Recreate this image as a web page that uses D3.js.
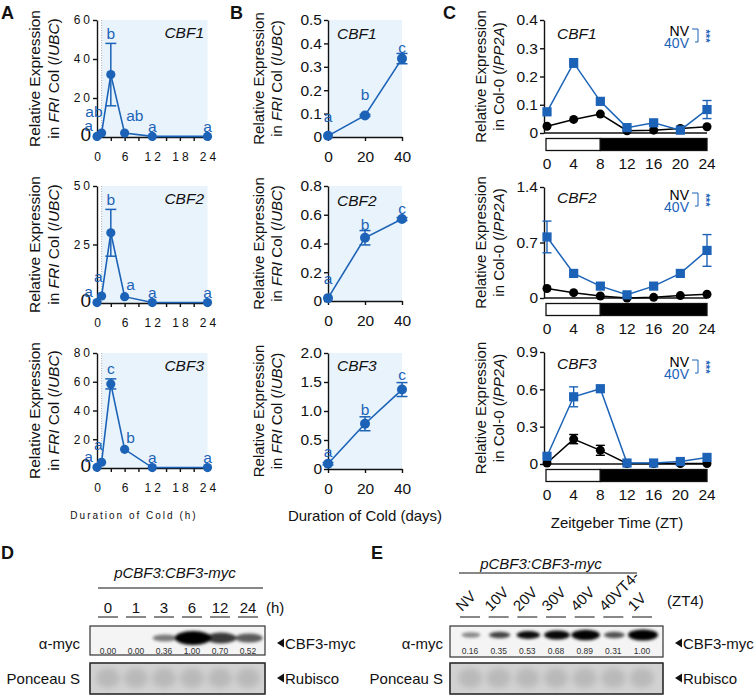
<!DOCTYPE html>
<html><head><meta charset="utf-8">
<script src="https://cdn.jsdelivr.net/npm/d3@7"></script>
<style>body{margin:0;background:#fff}svg{display:block}</style>
</head><body><svg id="c" width="756" height="696"></svg>
<script>
// ---------------- DATA ----------------
const hoursA = [0, 1, 3, 6, 12, 24];
const aCBF1 = [0.3, 2, 32, 2, 0.3, 0.3];
const aCBF1Err = [0, 0, 16, 0, 0, 0];
const aCBF1Sig = ["a", "ab", "b", "ab", "a", "a"];
const aCBF2 = [0.2, 3, 30, 2.7, 0.2, 0.2];
const aCBF2Err = [0, 0, 10, 0, 0, 0];
const aCBF2Sig = ["a", "a", "b", "a", "a", "a"];
const aCBF3 = [0.5, 4, 58.5, 13, 0.3, 0.3];
const aCBF3Err = [0, 0, 3.5, 0, 0, 0];
const aCBF3Sig = ["a", "a", "c", "b", "a", "a"];
const aTicksX = [0, 3, 6, 9, 12, 15, 18, 21, 24];
const aTicksY1 = [0, 20, 40, 60];
const aTicksY2 = [0, 25, 50];
const aTicksY3 = [0, 20, 40, 60, 80];

const daysB = [0, 20, 40];
const bCBF1 = [0.005, 0.092, 0.335];
const bCBF1Err = [0, 0.004, 0.022];
const bCBF2 = [0.02, 0.44, 0.57];
const bCBF2Err = [0, 0.05, 0.01];
const bCBF3 = [0.09, 0.78, 1.37];
const bCBF3Err = [0.02, 0.12, 0.12];
const bSig = ["a", "b", "c"];
const bTicksY1 = [0, 0.1, 0.2, 0.3, 0.4, 0.5];
const bTicksY2 = [0, 0.2, 0.4, 0.6, 0.8];
const bTicksY3 = [0, 0.5, 1.0, 1.5, 2.0];

const ztC = [0, 4, 8, 12, 16, 20, 24];
const cCBF1NV = [0.024, 0.048, 0.067, 0.008, 0.01, 0.016, 0.022];
const cCBF1NVErr = [0, 0, 0, 0, 0, 0, 0];
const cCBF1V40 = [0.075, 0.248, 0.112, 0.019, 0.036, 0.01, 0.083];
const cCBF1V40Err = [0, 0.015, 0, 0, 0, 0, 0.032];
const cCBF2NV = [0.12, 0.067, 0.025, 0.0, 0.008, 0.03, 0.047];
const cCBF2NVErr = [0, 0, 0, 0, 0, 0, 0];
const cCBF2V40 = [0.77, 0.31, 0.15, 0.04, 0.15, 0.31, 0.6];
const cCBF2V40Err = [0.2, 0, 0, 0, 0, 0, 0.2];
const cCBF3NV = [0.008, 0.2, 0.11, 0.004, 0.004, 0.004, 0.004];
const cCBF3NVErr = [0, 0.037, 0.04, 0, 0, 0, 0];
const cCBF3V40 = [0.062, 0.54, 0.605, 0.008, 0.008, 0.02, 0.053];
const cCBF3V40Err = [0, 0.08, 0, 0, 0, 0, 0];
const cTicksY1 = [0, 0.1, 0.2, 0.3, 0.4];
const cTicksY2 = [0, 0.7, 1.4];
const cTicksY3 = [0, 0.3, 0.6, 0.9];
const lightPeriod = [0, 8];
const darkPeriod = [8, 24];

const dLanes = ["0", "1", "3", "6", "12", "24"];
const dQuant = [0.00, 0.00, 0.36, 1.00, 0.70, 0.52];
const eLanes = ["NV", "10V", "20V", "30V", "40V", "40VT4-", "1V"];
const eQuant = [0.16, 0.35, 0.53, 0.68, 0.89, 0.31, 1.00];

// ---------------- STYLE ----------------
const BLUE = "#1c63b7";
const SHADE = "#e9f3fc";
const FONT = '"Liberation Sans", Arial, Helvetica, sans-serif';
const svg = d3.select("#c").attr("font-family", FONT);
svg.append("rect").attr("width", 756).attr("height", 696).attr("fill", "#fff");

const defs = svg.append("defs");
defs.append("filter").attr("id", "blur").attr("x", "-50%").attr("y", "-100%").attr("width", "200%").attr("height", "300%")
  .append("feGaussianBlur").attr("stdDeviation", 1.6);
defs.append("filter").attr("id", "blur2").attr("x", "-50%").attr("y", "-50%").attr("width", "200%").attr("height", "200%")
  .append("feGaussianBlur").attr("stdDeviation", 3);

function styleAxis(sel, size) {
  sel.attr("font-family", FONT).attr("font-size", size);
  sel.select(".domain").attr("stroke-width", 1.4).attr("stroke", "#111");
  sel.selectAll(".tick line").attr("stroke-width", 1.4).attr("stroke", "#111");
  sel.selectAll(".tick text").attr("fill", "#111");
}

function yLabel(x1, x2, yc, parts, size) {
  svg.append("text").attr("transform", `translate(${x1},${yc}) rotate(-90)`)
    .attr("text-anchor", "middle").attr("font-size", size).attr("fill", "#111").text("Relative Expression");
  const t = svg.append("text").attr("transform", `translate(${x2},${yc}) rotate(-90)`)
    .attr("text-anchor", "middle").attr("font-size", size).attr("fill", "#111").attr("xml:space", "preserve");
  parts.forEach(p => t.append("tspan").attr("font-style", p[1] ? "italic" : "normal").text(p[0]));
}
const ubcParts = [["in ", 0], ["FRI", 1], [" Col (/", 0], ["UBC", 1], [")", 0]];
const pp2aParts = [["in Col-0 (/", 0], ["PP2A", 1], [")", 0]];

function panelLetter(t, x, y) {
  svg.append("text").attr("x", x).attr("y", y).attr("font-size", 18).attr("font-weight", "bold").attr("fill", "#111").text(t);
}

// ---------------- A & B : cold time courses ----------------
function coldPanel(o) {
  const x = d3.scaleLinear().domain([0, o.xMax]).range([o.left, o.right]);
  const y = d3.scaleLinear().domain([0, o.yMax]).range([o.bottom, o.top]);
  const g = svg.append("g");
  g.append("rect").attr("x", x(o.shadeFrom)).attr("y", y(o.yMax))
    .attr("width", x(o.xMax) - x(o.shadeFrom)).attr("height", y(0) - y(o.yMax)).attr("fill", SHADE);
  if (o.dotted) g.append("line").attr("x1", x(o.shadeFrom)).attr("x2", x(o.shadeFrom))
    .attr("y1", y(o.yMax)).attr("y2", y(0)).attr("stroke", "#999").attr("stroke-width", 0.8).attr("stroke-dasharray", "1,1.5");

  const ya = g.append("g").attr("transform", `translate(${x(0)},0)`)
    .call(d3.axisLeft(y).tickValues(o.yTicks).tickFormat(o.yFmt).tickSize(4).tickSizeOuter(0));
  styleAxis(ya, o.tickSize);
  const xa = g.append("g").attr("transform", `translate(0,${y(0)})`)
    .call(d3.axisBottom(x).tickValues(o.xTicks).tickFormat(o.xFmt).tickSize(4).tickSizeOuter(0));
  styleAxis(xa, o.tickSize);
  xa.selectAll(".tick text").attr("y", 20).attr("dy", "0.35em");
  if (o.spacing) {
    xa.selectAll(".tick text").attr("letter-spacing", o.spacing).attr("x", o.spacing / 2);
    ya.selectAll(".tick text").attr("letter-spacing", o.spacing).attr("x", -4)
      .filter(d => d === 0).attr("letter-spacing", 0).attr("font-size", 19).attr("x", -6).attr("y", -3);
  } else {
    ya.selectAll(".tick text").attr("x", -6);
  }

  const pts = o.xs.map((d, i) => ({ x: d, v: o.vals[i], e: o.errs[i], s: o.sig[i], i }));
  g.append("path").datum(pts).attr("d", d3.line().x(d => x(d.x)).y(d => y(d.v)))
    .attr("fill", "none").attr("stroke", BLUE).attr("stroke-width", 1.6);
  pts.filter(d => d.e > 0).forEach(d => {
    const cx = x(d.x), y1 = y(d.v + d.e), y2 = y(Math.max(0, d.v - d.e));
    g.append("line").attr("x1", cx).attr("x2", cx).attr("y1", y1).attr("y2", y2).attr("stroke", BLUE).attr("stroke-width", 1.5);
    [y1, y2].forEach(yy => g.append("line").attr("x1", cx - 5.5).attr("x2", cx + 5.5).attr("y1", yy).attr("y2", yy)
      .attr("stroke", BLUE).attr("stroke-width", 1.5));
  });
  g.selectAll("circle.pt").data(pts).join("circle").attr("class", "pt")
    .attr("cx", d => x(d.x)).attr("cy", d => y(d.v)).attr("r", o.r).attr("fill", BLUE);

  pts.forEach(d => {
    const p = o.letterPos(d, x(d.x));
    g.append("text").attr("x", p.x).attr("y", y(d.v + d.e) + o.dy[d.i]).attr("text-anchor", p.anchor)
      .attr("dominant-baseline", "central").attr("font-size", 15.5).attr("fill", BLUE).text(d.s);
  });
  g.append("text").attr("x", o.geneX).attr("y", o.top + o.geneDy).attr("text-anchor", o.geneAnchor)
    .attr("dominant-baseline", "central").attr("font-size", 15.5).attr("font-style", "italic").attr("fill", "#111").text(o.gene);
}

const aLetterPos = (d, px) => d.i === 0 ? { x: px - 8.5, anchor: "middle" }
  : d.i === 1 ? { x: px + 1, anchor: "end" }
  : d.i === 3 ? { x: px + 1.5, anchor: "start" }
  : { x: px, anchor: "middle" };
const bLetterPos = (d, px) => ({ x: px, anchor: "middle" });

const rowsA = [
  { top: 20, bottom: 137, vals: aCBF1, errs: aCBF1Err, sig: aCBF1Sig, yMax: 60, yTicks: aTicksY1, gene: "CBF1", dy: [-10.5, -22, -10, -18, -10, -10] },
  { top: 186, bottom: 303, vals: aCBF2, errs: aCBF2Err, sig: aCBF2Sig, yMax: 50, yTicks: aTicksY2, gene: "CBF2", dy: [-11, -19, -9.5, -12, -10, -10] },
  { top: 353, bottom: 468, vals: aCBF3, errs: aCBF3Err, sig: aCBF3Sig, yMax: 80, yTicks: aTicksY3, gene: "CBF3", dy: [-10.5, -18, -10, -12, -10, -10] }
];
rowsA.forEach(r => {
  coldPanel(Object.assign({}, r, {
    xs: hoursA, xMax: 24, left: 97, right: 207.5, shadeFrom: 1, dotted: true,
    xTicks: aTicksX, xFmt: d => d % 6 === 0 ? d : "", yFmt: d3.format("d"),
    tickSize: 12, spacing: 3, r: 4.6, letterPos: aLetterPos,
    geneX: 204, geneDy: 12, geneAnchor: "end"
  }));
  yLabel(40, 59, (r.top + r.bottom) / 2, ubcParts, 15.5);
});

const fmt1 = d => d === 0 ? "0" : d3.format(".1f")(d);
const rowsB = [
  { top: 20, bottom: 137, vals: bCBF1, errs: bCBF1Err, yMax: 0.5, yTicks: bTicksY1, gene: "CBF1", dy: [-19, -20, -6], geneDy: 13 },
  { top: 186, bottom: 301, vals: bCBF2, errs: bCBF2Err, yMax: 0.8, yTicks: bTicksY2, gene: "CBF2", dy: [-20, -6, -9], geneDy: 14 },
  { top: 353, bottom: 469, vals: bCBF3, errs: bCBF3Err, yMax: 2.0, yTicks: bTicksY3, gene: "CBF3", dy: [-11, -7, -8], geneDy: 12 }
];
rowsB.forEach(r => {
  coldPanel(Object.assign({}, r, {
    xs: daysB, sig: bSig, xMax: 40, left: 328, right: 402, shadeFrom: 0, dotted: false,
    xTicks: daysB, xFmt: d3.format("d"), yFmt: fmt1,
    tickSize: 15.5, spacing: 0, r: 5, letterPos: bLetterPos,
    geneX: 337, geneAnchor: "start"
  }));
  yLabel(264, 282, (r.top + r.bottom) / 2, ubcParts, 15);
});

svg.append("text").attr("x", 134).attr("y", 515).attr("text-anchor", "middle").attr("dominant-baseline", "central")
  .attr("font-size", 10).attr("letter-spacing", 2).attr("fill", "#111").text("Duration of Cold (h)");
svg.append("text").attr("x", 365).attr("y", 515).attr("text-anchor", "middle").attr("dominant-baseline", "central")
  .attr("font-size", 15).attr("fill", "#111").text("Duration of Cold (days)");

// ---------------- C : diurnal ----------------
function diurnal(o) {
  const x = d3.scaleLinear().domain([0, 24]).range([547, 707]);
  const y = d3.scaleLinear().domain([0, o.yMax]).range([o.bottom, o.top]);
  const g = svg.append("g");
  const ya = g.append("g").attr("transform", "translate(544,0)")
    .call(d3.axisLeft(y).tickValues(o.yTicks).tickFormat(fmt1).tickSize(4).tickSizeOuter(0));
  styleAxis(ya, 15.5);
  ya.selectAll(".tick text").attr("x", -6);
  g.append("line").attr("x1", 544).attr("x2", x(24)).attr("y1", y(0)).attr("y2", y(0)).attr("stroke", "#111").attr("stroke-width", 1.4);

  const by = o.bottom + 5.5, bh = 12;
  g.append("rect").attr("x", x(lightPeriod[0]) - 1).attr("y", by).attr("width", x(lightPeriod[1]) - x(lightPeriod[0]) + 1).attr("height", bh)
    .attr("fill", "#fff").attr("stroke", "#111").attr("stroke-width", 1.3);
  g.append("rect").attr("x", x(darkPeriod[0])).attr("y", by).attr("width", x(darkPeriod[1]) - x(darkPeriod[0])).attr("height", bh)
    .attr("fill", "#000").attr("stroke", "#111").attr("stroke-width", 1.3);
  ztC.forEach(t => g.append("text").attr("x", x(t)).attr("y", by + bh + 13).attr("text-anchor", "middle")
    .attr("dominant-baseline", "central").attr("font-size", 15.5).attr("fill", "#111").text(t));

  function series(vals, errs, color, shape) {
    const pts = ztC.map((t, i) => ({ t, v: vals[i], e: errs[i] }));
    g.append("path").datum(pts).attr("d", d3.line().x(d => x(d.t)).y(d => y(d.v)))
      .attr("fill", "none").attr("stroke", color).attr("stroke-width", 1.5);
    pts.filter(d => d.e > 0).forEach(d => {
      const cx = x(d.t), y1 = y(d.v + d.e), y2 = y(Math.max(0, d.v - d.e));
      g.append("line").attr("x1", cx).attr("x2", cx).attr("y1", y1).attr("y2", y2).attr("stroke", color).attr("stroke-width", 1.4);
      [y1, y2].forEach(yy => g.append("line").attr("x1", cx - 4.5).attr("x2", cx + 4.5).attr("y1", yy).attr("y2", yy)
        .attr("stroke", color).attr("stroke-width", 1.4));
    });
    if (shape === "circle") {
      g.selectAll(null).data(pts).join("circle").attr("cx", d => x(d.t)).attr("cy", d => y(d.v)).attr("r", 4.5).attr("fill", color);
    } else {
      g.selectAll(null).data(pts).join("rect").attr("x", d => x(d.t) - 4.6).attr("y", d => y(d.v) - 4.6)
        .attr("width", 9.2).attr("height", 9.2).attr("fill", color);
    }
  }
  series(o.nv, o.nvErr, "#000", "circle");
  series(o.v40, o.v40Err, BLUE, "square");

  g.append("text").attr("x", 557).attr("y", o.top + o.geneDy).attr("dominant-baseline", "central")
    .attr("font-size", 15.5).attr("font-style", "italic").attr("fill", "#111").text(o.gene);
  const ly1 = o.top + o.legDy, ly2 = ly1 + 12;
  g.append("text").attr("x", 689).attr("y", ly1).attr("text-anchor", "end").attr("dominant-baseline", "central")
    .attr("font-size", 14).attr("fill", "#000").text("NV");
  g.append("text").attr("x", 689).attr("y", ly2).attr("text-anchor", "end").attr("dominant-baseline", "central")
    .attr("font-size", 14).attr("fill", BLUE).text("40V");
  g.append("path").attr("d", `M692,${ly1 - 2}H698V${ly2 - 1}H695`).attr("fill", "none").attr("stroke", BLUE).attr("stroke-width", 1);
  g.append("text").attr("transform", `translate(702,${(ly1 + ly2) / 2 - 1}) rotate(90)`).attr("text-anchor", "middle")
    .attr("font-size", 11).attr("font-weight", "bold").attr("fill", BLUE).text("***");
}
const rowsC = [
  { top: 20, bottom: 133, yMax: 0.4, yTicks: cTicksY1, nv: cCBF1NV, nvErr: cCBF1NVErr, v40: cCBF1V40, v40Err: cCBF1V40Err, gene: "CBF1", geneDy: 13, legDy: 11 },
  { top: 187, bottom: 298, yMax: 1.4, yTicks: cTicksY2, nv: cCBF2NV, nvErr: cCBF2NVErr, v40: cCBF2V40, v40Err: cCBF2V40Err, gene: "CBF2", geneDy: 10, legDy: 8 },
  { top: 352, bottom: 464, yMax: 0.9, yTicks: cTicksY3, nv: cCBF3NV, nvErr: cCBF3NVErr, v40: cCBF3V40, v40Err: cCBF3V40Err, gene: "CBF3", geneDy: 11, legDy: 10 }
];
rowsC.forEach(r => {
  diurnal(r);
  yLabel(486, 504, (r.top + r.bottom) / 2, pp2aParts, 15);
});
svg.append("text").attr("x", 617).attr("y", 522).attr("text-anchor", "middle").attr("dominant-baseline", "central")
  .attr("font-size", 15).attr("fill", "#111").text("Zeitgeber Time (ZT)");

panelLetter("A", 1, 19);
panelLetter("B", 230, 19);
panelLetter("C", 443, 19);
panelLetter("D", 1, 559);
panelLetter("E", 371, 559);

// ---------------- D & E : western blots ----------------
function arrowLabel(x, y, txt) {
  svg.append("path").attr("d", `M${x},${y}L${x + 7},${y - 4.5}L${x + 7},${y + 4.5}Z`).attr("fill", "#111");
  svg.append("text").attr("x", x + 8).attr("y", y).attr("dominant-baseline", "central").attr("font-size", 15).attr("fill", "#111").text(txt);
}
function blot(o) {
  const lx = d3.scalePoint().domain(o.lanes).range(o.laneRange);
  const op = d3.scaleLinear().domain(o.opDomain).range(o.opRange).clamp(true);
  const rx = d3.scaleLinear().domain([0.1, 1]).range(o.rxRange).clamp(true);
  const ry = d3.scaleLinear().domain([0.1, 1]).range(o.ryRange).clamp(true);
  svg.append("text").attr("x", o.headX).attr("y", o.headY).attr("text-anchor", "middle").attr("dominant-baseline", "central")
    .attr("font-size", 15).attr("font-style", "italic").attr("fill", "#111").text("pCBF3:CBF3-myc");
  svg.append("line").attr("x1", o.lineX[0]).attr("x2", o.lineX[1]).attr("y1", o.lineY).attr("y2", o.lineY).attr("stroke", "#111").attr("stroke-width", 1);
  o.lanes.forEach(l => {
    svg.append("line").attr("x1", lx(l) - 10).attr("x2", lx(l) + 10).attr("y1", 617).attr("y2", 617).attr("stroke", "#111").attr("stroke-width", 1);
    if (o.rotate) {
      svg.append("text").attr("transform", `translate(${lx(l) - 8},612) rotate(-45)`).attr("font-size", 15).attr("fill", "#111").text(l);
    } else {
      svg.append("text").attr("x", lx(l)).attr("y", 607).attr("text-anchor", "middle").attr("dominant-baseline", "central")
        .attr("font-size", 15).attr("fill", "#111").text(l);
    }
  });
  svg.append("text").attr("x", o.unitX).attr("y", o.unitY).attr("dominant-baseline", "central").attr("font-size", 15).attr("fill", "#111").text(o.unit);
  svg.append("rect").attr("x", o.box[0]).attr("y", 626).attr("width", o.box[1] - o.box[0]).attr("height", o.boxH)
    .attr("fill", "#f4f4f4").attr("stroke", "#333").attr("stroke-width", 1.2);
  const bands = svg.append("g").attr("filter", "url(#blur)");
  o.lanes.forEach((l, i) => {
    const q = o.quant[i];
    if (q <= 0) return;
    bands.append("ellipse").attr("cx", lx(l) + 1).attr("cy", o.bandY).attr("rx", rx(q)).attr("ry", ry(q))
      .attr("fill", "#000").attr("fill-opacity", op(q));
  });
  o.lanes.forEach((l, i) => svg.append("text").attr("x", lx(l)).attr("y", 651).attr("text-anchor", "middle")
    .attr("dominant-baseline", "central").attr("font-size", 8.5).attr("fill", "#333").text(d3.format(".2f")(o.quant[i])));
  svg.append("text").attr("x", o.leftX).attr("y", 643).attr("text-anchor", "end").attr("dominant-baseline", "central")
    .attr("font-size", 15).attr("fill", "#111").text("\u03b1-myc");
  arrowLabel(o.box[1] + 12, 643, "CBF3-myc");
  svg.append("rect").attr("x", o.box[0]).attr("y", 663).attr("width", o.box[1] - o.box[0]).attr("height", 31)
    .attr("fill", "#d2d2d2").attr("stroke", "#333").attr("stroke-width", 1.2);
  const pg = svg.append("g").attr("filter", "url(#blur2)");
  o.lanes.forEach(l => pg.append("ellipse").attr("cx", lx(l)).attr("cy", 678).attr("rx", 12).attr("ry", 10).attr("fill", "#b9b9b9"));
  svg.append("rect").attr("x", o.box[0]).attr("y", 663).attr("width", o.box[1] - o.box[0]).attr("height", 31)
    .attr("fill", "none").attr("stroke", "#333").attr("stroke-width", 1.2);
  svg.append("text").attr("x", o.leftX).attr("y", 678).attr("text-anchor", "end").attr("dominant-baseline", "central")
    .attr("font-size", 15).attr("fill", "#111").text("Ponceau S");
  arrowLabel(o.box[1] + 12, 678, "Rubisco");
}
blot({
  lanes: dLanes, quant: dQuant, laneRange: [108, 248], rotate: false,
  opDomain: [0, 0.3, 1], opRange: [0, 0.45, 1], rxRange: [10, 18], ryRange: [2.2, 7],
  headX: 175, headY: 572, lineX: [98, 263], lineY: 588, unit: "(h)", unitX: 266, unitY: 607,
  box: [90, 265], boxH: 29, bandY: 638, leftX: 80
});
blot({
  lanes: eLanes, quant: eQuant, laneRange: [470, 642], rotate: true,
  opDomain: [0.1, 0.5, 1], opRange: [0.35, 0.95, 1], rxRange: [9, 15], ryRange: [2.5, 5.5],
  headX: 541, headY: 563, lineX: [459, 637], lineY: 573, unit: "(ZT4)", unitX: 667, unitY: 600,
  box: [450, 663], boxH: 31, bandY: 635, leftX: 443
});
</script></body></html>
